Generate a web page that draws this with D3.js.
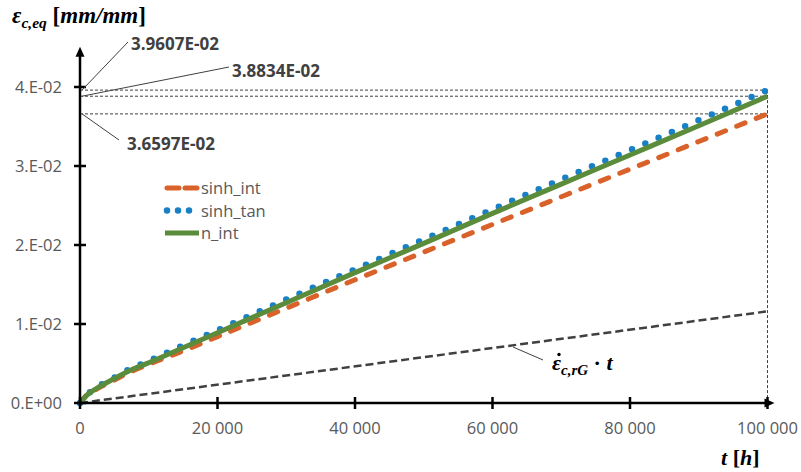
<!DOCTYPE html>
<html>
<head>
<meta charset="utf-8">
<script src="https://cdn.jsdelivr.net/npm/d3@7"></script>
<style>
  body { margin: 0; background: #fff; }
  svg { display: block; }
  .tick-label { font-family: "Open Sans", sans-serif; font-size: 16.5px; fill: #595959; }
  .note { font-family: "Open Sans", sans-serif; font-size: 17px; font-weight: bold; fill: #404040; }
  .math { font-family: "Liberation Serif", "DejaVu Serif", serif; font-weight: bold; fill: #000; }
</style>
</head>
<body>
<svg id="chart" width="801" height="472"></svg>
<script>
/// data ///
const hours = [0, 1000, 2500, 5000, 7500, 10000, 15000, 20000, 30000, 40000, 50000, 60000, 70000, 80000, 90000, 100000];
const sinhInt = [0, 0.0010, 0.0018, 0.0029, 0.0040, 0.0049, 0.0066, 0.0084, 0.0120, 0.0156, 0.0191, 0.0226, 0.0261, 0.0296, 0.0331, 0.036597];
const sinhTan = [0, 0.0010, 0.0020, 0.0032, 0.0044, 0.0053, 0.0073, 0.0092, 0.0131, 0.0169, 0.0207, 0.0245, 0.0283, 0.0320, 0.0358, 0.039607];
const nInt    = [0, 0.0010, 0.0019, 0.0031, 0.0042, 0.0051, 0.0070, 0.0089, 0.0127, 0.0165, 0.0202, 0.0240, 0.0277, 0.0314, 0.0351, 0.038834];
const rateHours = [0, 100000];
const rateLine = [0, 0.0116];

const xTicks = [0, 20000, 40000, 60000, 80000, 100000];
const yTicks = [0, 0.01, 0.02, 0.03, 0.04];
const yTickLabels = ["0.E+00", "1.E-02", "2.E-02", "3.E-02", "4.E-02"];
const endValues = [0.039607, 0.038834, 0.036597];
const endLabels = ["3.9607E-02", "3.8834E-02", "3.6597E-02"];

const seriesNames = ["sinh_int", "sinh_tan", "n_int"];

/// layout ///
const svg = d3.select("#chart");
const x = d3.scaleLinear().domain([0, 100000]).range([80, 767.5]);
const y = d3.scaleLinear().domain([0, 0.04]).range([403, 87]);
const yTop = 0.0442;

const series = [
  { name: seriesNames[0], values: sinhInt, color: "#d9622b", width: 5, dash: "9 12", cap: "round" },
  { name: seriesNames[1], values: sinhTan, color: "#1a80c6", width: 6.5, dash: "0 14.5", cap: "round" },
  { name: seriesNames[2], values: nInt, color: "#5b8c3b", width: 5, dash: null, cap: "butt" }
];

// reference dashed lines at the end values
const guides = svg.append("g").attr("stroke", "#404040").attr("stroke-width", 1).attr("stroke-dasharray", "3 2");
endValues.forEach(v => {
  guides.append("line")
    .attr("x1", x(0)).attr("x2", x(100000))
    .attr("y1", y(v)).attr("y2", y(v));
});
guides.append("line")
  .attr("x1", x(100000)).attr("x2", x(100000))
  .attr("y1", y(d3.max(endValues))).attr("y2", y(0));

// secondary creep rate line
const line = d3.line().x(d => x(d[0])).y(d => y(d[1]));
svg.append("path")
  .datum(rateHours.map((t, i) => [t, rateLine[i]]))
  .attr("d", line)
  .attr("fill", "none")
  .attr("stroke", "#404040")
  .attr("stroke-width", 2.5)
  .attr("stroke-dasharray", "8 4");

// curves
const smooth = d3.line().x(d => x(d[0])).y(d => y(d[1])).curve(d3.curveMonotoneX);
series.forEach(s => {
  svg.append("path")
    .datum(hours.map((t, i) => [t, s.values[i]]))
    .attr("d", smooth)
    .attr("fill", "none")
    .attr("stroke", s.color)
    .attr("stroke-width", s.width)
    .attr("stroke-linecap", s.cap)
    .attr("stroke-dasharray", s.dash);
});

// axes
const axisG = svg.append("g");
axisG.append("line").attr("x1", x(0)).attr("x2", x(100000)).attr("y1", y(0)).attr("y2", y(0))
  .attr("stroke", "#000").attr("stroke-width", 2.5);
axisG.append("line").attr("x1", x(0)).attr("x2", x(0)).attr("y1", y(0) + 1).attr("y2", y(yTop))
  .attr("stroke", "#000").attr("stroke-width", 2.5);
// arrow heads
axisG.append("path")
  .attr("d", `M${x(100000) - 3},${y(0) - 4.5} L${x(100000) + 7},${y(0)} L${x(100000) - 3},${y(0) + 4.5} Z`)
  .attr("fill", "#000");
axisG.append("path")
  .attr("d", `M${x(0) - 4.5},${y(yTop) + 3} L${x(0)},${y(yTop) - 7} L${x(0) + 4.5},${y(yTop) + 3} Z`)
  .attr("fill", "#000");

xTicks.forEach(t => {
  axisG.append("line").attr("x1", x(t)).attr("x2", x(t)).attr("y1", y(0) - 6).attr("y2", y(0) + 6)
    .attr("stroke", "#000").attr("stroke-width", 2.5);
  axisG.append("text").attr("class", "tick-label")
    .attr("x", x(t)).attr("y", 434).attr("text-anchor", "middle")
    .text(d3.format(",")(t).replace(/,/g, " "));
});
yTicks.forEach((v, i) => {
  axisG.append("line").attr("x1", x(0) - 6).attr("x2", x(0) + 6).attr("y1", y(v)).attr("y2", y(v))
    .attr("stroke", "#000").attr("stroke-width", 2.5);
  axisG.append("text").attr("class", "tick-label")
    .attr("x", 62).attr("y", y(v) + 6).attr("text-anchor", "end")
    .text(yTickLabels[i]);
});

// end value annotations
const notePos = [[131, 50, 128, 42], [232, 77, 229, 67], [127, 150, 119, 140]];
endValues.forEach((v, i) => {
  const p = notePos[i];
  svg.append("line").attr("x1", x(0) + 2).attr("y1", y(v)).attr("x2", p[2]).attr("y2", p[3])
    .attr("stroke", "#404040").attr("stroke-width", 1);
  svg.append("text").attr("class", "note").attr("x", p[0]).attr("y", p[1]).text(endLabels[i]);
});

// legend
const legend = svg.append("g");
series.forEach((s, i) => {
  const ly = 188 + i * 22.5;
  legend.append("line").attr("x1", s.cap === "round" ? 167 : 165).attr("x2", 199).attr("y1", ly).attr("y2", ly)
    .attr("stroke", s.color).attr("stroke-width", s.width)
    .attr("stroke-linecap", s.cap)
    .attr("stroke-dasharray", i === 0 ? "12 6" : (i === 1 ? "0 11" : null));
  legend.append("text").attr("class", "tick-label").attr("x", 201).attr("y", ly + 6).text(s.name);
});

// rate line label (dot over epsilon drawn as a small circle)
svg.append("line").attr("x1", 513).attr("y1", 347).attr("x2", 543).attr("y2", 360)
  .attr("stroke", "#404040").attr("stroke-width", 1);
const rl = svg.append("text").attr("class", "math").attr("x", 552).attr("y", 370).attr("font-size", 22);
rl.append("tspan").attr("font-style", "italic").text("\u03B5");
rl.append("tspan").attr("font-style", "italic").attr("font-size", 15).attr("dy", 5).text("c,rG");
rl.append("tspan").attr("dy", -5).text(" \u00B7 ");
rl.append("tspan").attr("font-style", "italic").text("t");
svg.append("circle").attr("cx", 559).attr("cy", 354.5).attr("r", 1.7).attr("fill", "#000");

// axis titles
const yt = svg.append("text").attr("class", "math").attr("x", 12).attr("y", 23).attr("font-size", 23);
yt.append("tspan").attr("font-style", "italic").text("\u03B5");
yt.append("tspan").attr("font-style", "italic").attr("font-size", 15.5).attr("dy", 5).text("c,eq");
yt.append("tspan").attr("dy", -5).text(" [");
yt.append("tspan").attr("font-style", "italic").text("mm/mm");
yt.append("tspan").text("]");

const xt = svg.append("text").attr("class", "math").attr("x", 721).attr("y", 465).attr("font-size", 22);
xt.append("tspan").attr("font-style", "italic").text("t");
xt.append("tspan").text(" [");
xt.append("tspan").attr("font-style", "italic").text("h");
xt.append("tspan").text("]");
</script>
</body>
</html>
